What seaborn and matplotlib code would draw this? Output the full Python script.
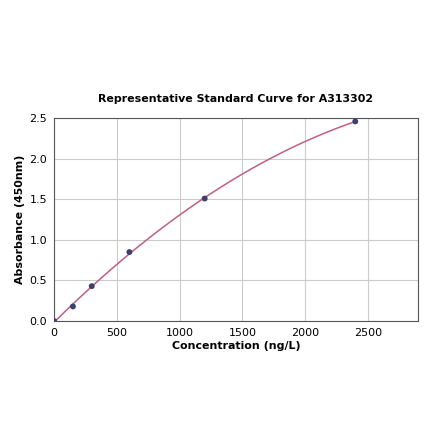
import numpy as np
import pandas as pd
import matplotlib
matplotlib.use("Agg")
import matplotlib.pyplot as plt
import seaborn as sns

# standard points
conc = [0, 150, 300, 600, 1200, 2400]
absorb = [0.0, 0.18, 0.43, 0.85, 1.51, 2.46]

df = pd.DataFrame({"Concentration": conc, "Absorbance": absorb})

sns.set_style("whitegrid")
plt.rcParams["font.family"] = ["DejaVu Sans"]
plt.rcParams["text.color"] = "black"
plt.rcParams["axes.labelcolor"] = "black"
plt.rcParams["xtick.color"] = "black"
plt.rcParams["ytick.color"] = "black"

fig = plt.figure(figsize=(4.4, 4.41), dpi=100)
ax = fig.add_axes([0.123, 0.272, 0.827, 0.46])

# smooth fit curve
coef = np.polyfit(conc, absorb, 2)
xs = np.linspace(0, max(conc), 200)
fit = pd.DataFrame({"x": xs, "y": np.polyval(coef, xs)})
sns.lineplot(data=fit, x="x", y="y", ax=ax, color="#c0607e", linewidth=1.1)
sns.scatterplot(data=df, x="Concentration", y="Absorbance", ax=ax,
                color="#3d3f6e", s=18, edgecolor="none", zorder=3)

ax.set_xlim(0, 2900)
ax.set_ylim(0, 2.5)
ax.set_xticks([0, 500, 1000, 1500, 2000, 2500])
ax.set_yticks([0.0, 0.5, 1.0, 1.5, 2.0, 2.5])
ax.grid(True, color="#cccccc", linewidth=0.8)
for s in ax.spines.values():
    s.set_color("#555555")
    s.set_linewidth(0.8)
ax.tick_params(labelsize=8, length=3, color="#555555", pad=2)
ax.set_xlabel("Concentration (ng/L)", fontsize=7.9, fontweight="bold", labelpad=2)
ax.set_ylabel("Absorbance (450nm)", fontsize=7.9, fontweight="bold", labelpad=3)
ax.set_title("Representative Standard Curve for A313302", fontsize=7.9,
             fontweight="bold", pad=12)

fig.savefig("out.png", dpi=100)
